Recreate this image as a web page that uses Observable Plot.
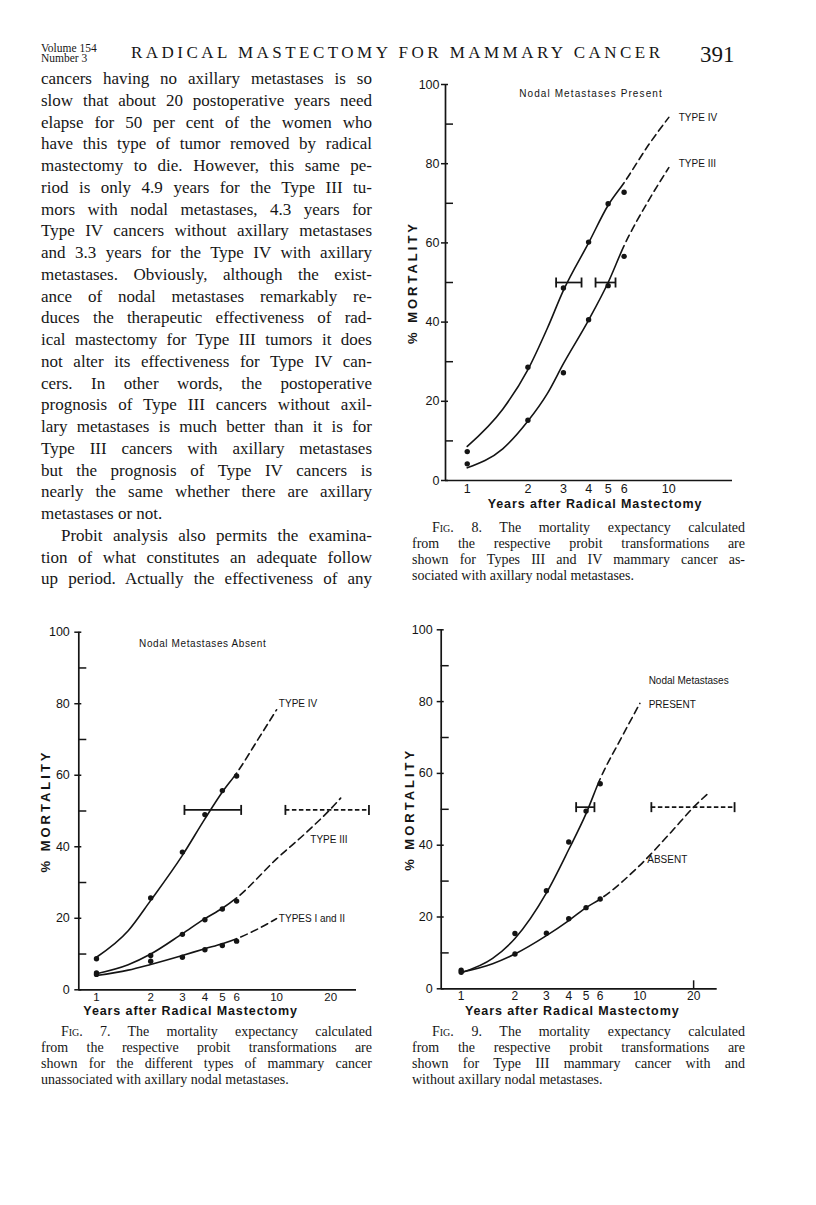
<!DOCTYPE html>
<html>
<head>
<meta charset="utf-8">
<script src="https://cdn.jsdelivr.net/npm/d3@7"></script>
<script src="https://cdn.jsdelivr.net/npm/@observablehq/plot@0.6"></script>
<style>
  html, body { margin: 0; padding: 0; background: #fff; }
  body { width: 816px; height: 1205px; position: relative; overflow: hidden; color: #161616;
         font-family: "Liberation Serif", "Times New Roman", serif; }
  .abs { position: absolute; }
  .ln { position: absolute; white-space: nowrap; }
  .ln > span { display: inline-block; white-space: nowrap; }
  .sc { font-variant: small-caps; }
  .fig svg { overflow: visible; }
  .fig g[aria-label="y-axis tick label"] text { font-size: 12.5px; }
</style>
</head>
<body>
<div id="page"></div>
<script>
// ---------------- Fig. 8 : nodal metastases present ----------------
const fig8ObsYears   = [1, 2, 3, 4, 5, 6];
const fig8TypeIVObs  = [7.3, 28.6, 48.6, 60.2, 69.9, 72.8];
const fig8TypeIIIObs = [4.2, 15.2, 27.2, 40.6, 49.2, 56.6];
const fig8CurveYears = [1, 1.5, 2, 2.5, 3, 4, 5, 6, 8, 10];
const fig8TypeIVCurve  = [8.6, 18, 28, 38.5, 48, 60, 69.5, 75.2, 85, 91.7];
const fig8TypeIIICurve = [3.2, 8, 15, 22, 29.5, 40.5, 50, 59.3, 71, 79];
const fig8SolidUntil = 6;   // curves are solid up to 6 years, dashed beyond
const fig8BarLow  = [2.76, 4.33];
const fig8BarHigh = [3.69, 5.44];
const fig8BarPct  = [50, 50];
const fig8LabelText = ["TYPE IV", "TYPE III"];
const fig8LabelYear = [11.2, 11.2];
const fig8LabelPct  = [91.7, 80];
const fig8XTicks = [1, 2, 3, 4, 5, 6, 10];

// ---------------- Fig. 7 : nodal metastases absent ----------------
const fig7ObsYears     = [1, 2, 3, 4, 5, 6];
const fig7TypeIVObs    = [8.7, 25.7, 38.5, 49.0, 55.7, 59.8];
const fig7TypeIIIObs   = [4.7, 9.6, 15.5, 19.6, 22.6, 24.8];
const fig7TypesI_IIObs = [4.3, 8.0, 9.1, 11.2, 12.4, 13.6];
const fig7TypeIVCurveYears    = [1, 1.5, 2, 3, 4, 5, 6, 8, 10];
const fig7TypeIVCurve         = [9.1, 16.5, 25, 37.6, 47.8, 55.3, 60.6, 70.5, 78.3];
const fig7TypeIIICurveYears   = [1, 1.5, 2, 3, 4, 5, 6, 10, 15, 20, 22.7];
const fig7TypeIIICurve        = [4.5, 7, 10, 15.7, 19.9, 22.8, 25.7, 36.6, 44.5, 50.6, 53.6];
const fig7TypesI_IICurveYears = [1, 1.5, 2, 3, 4, 5, 6, 8, 10];
const fig7TypesI_IICurve      = [4, 5.5, 7.1, 9.6, 11.5, 12.9, 14.3, 17.2, 19.9];
const fig7SolidUntil = 6;
const fig7BarLow  = [3.08, 11.2];
const fig7BarHigh = [6.36, 32.6];
const fig7BarPct  = [50.3, 50.3];
const fig7LabelText = ["TYPE IV", "TYPE III", "TYPES I and II"];
const fig7LabelYear = [10.3, 15.4, 10.3];
const fig7LabelPct  = [80.1, 41.9, 19.9];
const fig7XTicks = [1, 2, 3, 4, 5, 6, 10, 20];

// ---------------- Fig. 9 : Type III with / without nodal metastases ----------------
const fig9ObsYears   = [1, 2, 3, 4, 5, 6];
const fig9PresentObs = [5.2, 15.4, 27.3, 40.9, 49.5, 57.1];
const fig9AbsentObs  = [4.6, 9.7, 15.5, 19.5, 22.6, 25.0];
const fig9PresentCurveYears = [1, 1.5, 2, 3, 4, 5, 6, 8, 10];
const fig9PresentCurve      = [4.5, 8.5, 14, 26.7, 38.8, 48.8, 58.5, 70.5, 79.5];
const fig9AbsentCurveYears  = [1, 1.5, 2, 3, 4, 5, 6, 10, 15, 20, 24.3];
const fig9AbsentCurve       = [4.6, 7, 9.7, 14.8, 19, 22.6, 25, 34.4, 43.7, 50.6, 54.6];
const fig9SolidUntil = 6;
const fig9BarLow  = [4.40, 11.6];
const fig9BarHigh = [5.57, 33.9];
const fig9BarPct  = [50.6, 50.6];
const fig9LabelText = ["Nodal Metastases", "PRESENT", "ABSENT"];
const fig9LabelYear = [11.2, 11.2, 11.0];
const fig9LabelPct  = [85.7, 79.2, 35.9];
const fig9XTicks = [1, 2, 3, 4, 5, 6, 10, 20];

const yMajorTicks = [0, 20, 40, 60, 80, 100];
const yMinorTicks = [10, 30, 50, 70, 90];

// ---------------- page text ----------------
const headerLeft = ["Volume 154", "Number 3"];
const headerTitle = "RADICAL MASTECTOMY FOR MAMMARY CANCER";
const headerPage = "391";
const bodyLines = [
  "cancers having no axillary metastases is so",
  "slow that about 20 postoperative years need",
  "elapse for 50 per cent of the women who",
  "have this type of tumor removed by radical",
  "mastectomy to die. However, this same pe-",
  "riod is only 4.9 years for the Type III tu-",
  "mors with nodal metastases, 4.3 years for",
  "Type IV cancers without axillary metastases",
  "and 3.3 years for the Type IV with axillary",
  "metastases. Obviously, although the exist-",
  "ance of nodal metastases remarkably re-",
  "duces the therapeutic effectiveness of rad-",
  "ical mastectomy for Type III tumors it does",
  "not alter its effectiveness for Type IV can-",
  "cers. In other words, the postoperative",
  "prognosis of Type III cancers without axil-",
  "lary metastases is much better than it is for",
  "Type III cancers with axillary metastases",
  "but the prognosis of Type IV cancers is",
  "nearly the same whether there are axillary",
  "metastases or not.",
  "Probit analysis also permits the examina-",
  "tion of what constitutes an adequate follow",
  "up period. Actually the effectiveness of any"
];
const bodyIndented = [21];
const bodyParagraphEnds = [20];
const caption8 = [
  '<span class="sc">Fig</span>. 8. The mortality expectancy calculated',
  "from the respective probit transformations are",
  "shown for Types III and IV mammary cancer as-",
  "sociated with axillary nodal metastases."
];
const caption7 = [
  '<span class="sc">Fig</span>. 7. The mortality expectancy calculated',
  "from the respective probit transformations are",
  "shown for the different types of mammary cancer",
  "unassociated with axillary nodal metastases."
];
const caption9 = [
  '<span class="sc">Fig</span>. 9. The mortality expectancy calculated',
  "from the respective probit transformations are",
  "shown for Type III mammary cancer with and",
  "without axillary nodal metastases."
];

const page = document.getElementById("page");

function block(lines, {left, top, width, lineHeight, fontSize, indented = [], ends = [], indent = 20, lastJustified = false}) {
  lines.forEach((html, i) => {
    const div = document.createElement("div");
    div.className = "ln";
    const ind = indented.includes(i) ? indent : 0;
    div.style.left = (left + ind) + "px";
    div.style.top = (top + i * lineHeight) + "px";
    div.style.fontSize = fontSize + "px";
    div.style.lineHeight = lineHeight + "px";
    const span = document.createElement("span");
    span.innerHTML = html;
    div.appendChild(span);
    page.appendChild(div);
    const isLast = ends.includes(i) || (i === lines.length - 1 && !lastJustified);
    if (!isLast) {
      const w = span.getBoundingClientRect().width;
      const spaces = (span.textContent.match(/ /g) || []).length;
      if (spaces) span.style.wordSpacing = ((width - ind - w) / spaces) + "px";
    }
  });
}

// header
block(headerLeft, {left: 41, top: 43, width: 60, lineHeight: 10, fontSize: 11.5, ends: [0, 1]});
(function () {
  const d = document.createElement("div");
  d.className = "ln";
  d.style.left = "131px"; d.style.top = "42px"; d.style.fontSize = "17px"; d.style.lineHeight = "22px";
  const s = document.createElement("span"); s.textContent = headerTitle; d.appendChild(s); page.appendChild(d);
  const w = s.getBoundingClientRect().width;
  s.style.letterSpacing = ((529 - w) / (headerTitle.length - 1)) + "px";
  const p = document.createElement("div");
  p.className = "ln";
  p.style.left = "700px"; p.style.top = "41px"; p.style.fontSize = "23px"; p.style.lineHeight = "28px";
  p.textContent = headerPage; page.appendChild(p);
})();

block(bodyLines, {left: 41, top: 68, width: 331, lineHeight: 21.75, fontSize: 17, indented: bodyIndented, ends: bodyParagraphEnds, lastJustified: true});
block(caption8, {left: 412, top: 520, width: 333, lineHeight: 16, fontSize: 14, indented: [0], ends: [3]});
block(caption7, {left: 41, top: 1024, width: 331, lineHeight: 16, fontSize: 14, indented: [0], ends: [3]});
block(caption9, {left: 412, top: 1024, width: 333, lineHeight: 16, fontSize: 14, indented: [0], ends: [3]});

// ---------------- charts ----------------
const pts = (xs, ys) => xs.map((x, i) => ({x, y: ys[i]}));
const barRows = (lo, hi, pct) => lo.map((l, i) => ({lo: l, hi: hi[i], y: pct[i]}));
const labelRows = (t, xs, ys) => t.map((s, i) => ({text: s, x: xs[i], y: ys[i]}));
const capSymbol = {draw(context, size) { const h = Math.sqrt(size / Math.PI); context.moveTo(0, -h); context.lineTo(0, h); }};
const ink = "#141414";
const sans = '"Liberation Sans", Arial, sans-serif';
const letterSpacingFor = {"% MORTALITY": 3, "Years after Radical Mastectomy": 0.9, "Nodal Metastases Present": 1.1, "Nodal Metastases Absent": 0.6};

function figure(cfg) {
  const marks = [
    Plot.ruleX([cfg.xDomain[0]], {stroke: ink, strokeWidth: 1.7}),
    Plot.ruleY([0], {stroke: ink, strokeWidth: 1.7}),
    Plot.axisY(yMinorTicks, {tickSize: 8, dx: 8, tickFormat: () => "", stroke: ink, strokeWidth: 1.5, label: null}),
    Plot.axisY(yMajorTicks, {tickSize: 7, dx: 3, tickPadding: cfg.yPad, stroke: ink, strokeWidth: 1.5, fill: ink, label: null, fontFamily: sans}),
    Plot.text(cfg.xTicks, {x: d => d, text: d => String(d), frameAnchor: "bottom", lineAnchor: "middle", dy: cfg.xPad, fontSize: cfg.xTickFont, fill: ink})
  ];
  if (cfg.xInner) marks.push(Plot.axisX(cfg.xInner, {tickSize: 8, dy: -8, tickFormat: () => "", stroke: ink, strokeWidth: 1.5, label: null}));
  for (const s of cfg.series) {
    marks.push(Plot.line(s.curve, {x: "x", y: "y", curve: "monotone-x", stroke: ink, strokeWidth: 1.6}));
    marks.push(Plot.dot(s.obs, {x: "x", y: "y", r: 2.7, fill: ink, stroke: "none"}));
  }
  const solidBars = cfg.bars.filter(b => !b.dashed), dashedBars = cfg.bars.filter(b => b.dashed);
  marks.push(Plot.ruleY(solidBars, {y: "y", x1: "lo", x2: "hi", stroke: ink, strokeWidth: 1.7}));
  marks.push(Plot.ruleY(dashedBars, {y: "y", x1: "lo", x2: "hi", stroke: ink, strokeWidth: 1.7, strokeDasharray: "4.5,2.5"}));
  const caps = cfg.bars.flatMap(b => [{x: b.lo, y: b.y}, {x: b.hi, y: b.y}]);
  marks.push(Plot.dot(caps, {x: "x", y: "y", symbol: capSymbol, r: 5, stroke: ink, strokeWidth: 1.8, fill: "none"}));
  marks.push(Plot.text(cfg.labels, {x: "x", y: "y", text: "text", textAnchor: "start", lineAnchor: "middle", fontSize: 10, fill: ink}));
  if (cfg.title) marks.push(Plot.text([cfg.title], {frameAnchor: "top", textAnchor: "middle", lineAnchor: "middle", dx: cfg.titleDx, dy: cfg.titleDy, fontSize: 10, fill: ink}));
  marks.push(Plot.text(["% MORTALITY"], {frameAnchor: "left", textAnchor: "middle", lineAnchor: "middle", dx: cfg.yTitleDx, rotate: -90, fontSize: 13, fontWeight: "bold", fill: ink}));
  marks.push(Plot.text(["Years after Radical Mastectomy"], {frameAnchor: "bottom", textAnchor: "middle", lineAnchor: "middle", dx: cfg.xTitleDx, dy: cfg.xTitleDy, fontSize: 12.5, fontWeight: "bold", fill: ink}));

  const svg = Plot.plot({
    width: cfg.width, height: cfg.height,
    marginLeft: cfg.m[3], marginRight: cfg.m[1], marginTop: cfg.m[0], marginBottom: cfg.m[2],
    x: {type: "log", domain: cfg.xDomain, axis: null},
    y: {domain: [0, 100]},
    style: {fontFamily: sans, background: "transparent", color: ink, overflow: "visible"},
    marks
  });
  const holder = document.createElement("div");
  holder.className = "abs fig";
  holder.style.left = cfg.left + "px";
  holder.style.top = cfg.top + "px";
  holder.appendChild(svg);
  page.appendChild(holder);

  // letter spacing of the lettered titles
  svg.querySelectorAll("text").forEach(t => {
    const c = t.textContent;
    if (c in letterSpacingFor) t.setAttribute("letter-spacing", letterSpacingFor[c]);
  });

  // fitted curves: solid over the observed period, dashed extrapolation beyond it
  try {
    const xSwitch = svg.scale("x").apply(cfg.solidUntil);
    svg.querySelectorAll('g[aria-label="line"] path').forEach(path => {
      const L = path.getTotalLength();
      if (!(L > 0) || !isFinite(xSwitch)) return;
      let lo = 0, hi = L;
      for (let k = 0; k < 40; k++) {
        const mid = (lo + hi) / 2;
        if (path.getPointAtLength(mid).x < xSwitch) lo = mid; else hi = mid;
      }
      const parts = [lo.toFixed(2)];
      let rem = L - lo;
      while (rem > 0) { parts.push(4.5, 7); rem -= 11.5; }
      parts.push(4.5, L + 20);
      path.setAttribute("stroke-dasharray", parts.join(" "));
    });
  } catch (e) { /* keep solid curves */ }
}

figure({
  left: 400, top: 70, width: 360, height: 450, m: [14, 28, 40, 45],
  xDomain: [0.78, 20.7], xTicks: fig8XTicks, xPad: 8, xTickFont: 12.5, yPad: 2, solidUntil: fig8SolidUntil,
  series: [
    {obs: pts(fig8ObsYears, fig8TypeIVObs), curve: pts(fig8CurveYears, fig8TypeIVCurve)},
    {obs: pts(fig8ObsYears, fig8TypeIIIObs), curve: pts(fig8CurveYears, fig8TypeIIICurve)}
  ],
  bars: barRows(fig8BarLow, fig8BarHigh, fig8BarPct),
  labels: labelRows(fig8LabelText, fig8LabelYear, fig8LabelPct),
  title: "Nodal Metastases Present", titleDx: 2, titleDy: 9,
  yTitleDx: -33, xTitleDx: 6, xTitleDy: 23
});

const fig7Bars = barRows(fig7BarLow, fig7BarHigh, fig7BarPct);
fig7Bars[1].dashed = true;
figure({
  left: 30, top: 610, width: 360, height: 410, m: [21.7, 34, 30.7, 48.3],
  xDomain: [0.7975, 27.8], xTicks: fig7XTicks, xPad: 7.5, xTickFont: 11.5, yPad: 5, solidUntil: fig7SolidUntil,
  series: [
    {obs: pts(fig7ObsYears, fig7TypeIVObs), curve: pts(fig7TypeIVCurveYears, fig7TypeIVCurve)},
    {obs: pts(fig7ObsYears, fig7TypeIIIObs), curve: pts(fig7TypeIIICurveYears, fig7TypeIIICurve)},
    {obs: pts(fig7ObsYears, fig7TypesI_IIObs), curve: pts(fig7TypesI_IICurveYears, fig7TypesI_IICurve)}
  ],
  bars: fig7Bars,
  labels: labelRows(fig7LabelText, fig7LabelYear, fig7LabelPct),
  title: "Nodal Metastases Absent", titleDx: -15, titleDy: 11.5,
  yTitleDx: -33, xTitleDx: -27, xTitleDy: 21.5
});

const fig9Bars = barRows(fig9BarLow, fig9BarHigh, fig9BarPct);
fig9Bars[1].dashed = true;
figure({
  left: 400, top: 610, width: 380, height: 410, m: [19.3, 63.3, 31.7, 40.7],
  xDomain: [0.773, 27.1], xTicks: fig9XTicks, xInner: [20], xPad: 7.5, xTickFont: 12, yPad: 4.5, solidUntil: fig9SolidUntil,
  series: [
    {obs: pts(fig9ObsYears, fig9PresentObs), curve: pts(fig9PresentCurveYears, fig9PresentCurve)},
    {obs: pts(fig9ObsYears, fig9AbsentObs), curve: pts(fig9AbsentCurveYears, fig9AbsentCurve)}
  ],
  bars: fig9Bars,
  labels: labelRows(fig9LabelText, fig9LabelYear, fig9LabelPct),
  title: null,
  yTitleDx: -31.5, xTitleDx: -7, xTitleDy: 22
});
</script>
</body>
</html>
